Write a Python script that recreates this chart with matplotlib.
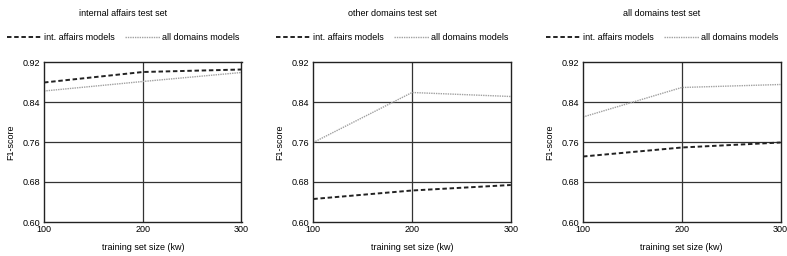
import matplotlib
matplotlib.use('Agg')
import matplotlib.pyplot as plt

# Data
sizes = [100, 200, 300]
titles = ['internal affairs test set', 'other domains test set', 'all domains test set']
int_affairs = [
    [0.879, 0.900, 0.905],
    [0.646, 0.663, 0.674],
    [0.731, 0.749, 0.759],
]
all_domains = [
    [0.862, 0.881, 0.899],
    [0.759, 0.859, 0.851],
    [0.810, 0.869, 0.875],
]
yticks = [0.60, 0.68, 0.76, 0.84, 0.92]
xticks = [100, 200, 300]

plt.rcParams['font.family'] = ['Liberation Sans', 'DejaVu Sans']
FS = 6.5

W, H = 787, 256
fig = plt.figure(figsize=(W / 100, H / 100), dpi=100)

lefts = [44, 313.3, 583]
ax_w = 197.5
ax_top, ax_bot = 62, 222

for i in range(3):
    ax = fig.add_axes([lefts[i] / W, (H - ax_bot) / H, ax_w / W, (ax_bot - ax_top) / H])
    l1, = ax.plot(sizes, int_affairs[i], color='#222222', lw=1.4,
                  linestyle=(0, (2.3, 1.4)), label='int. affairs models')
    l2, = ax.plot(sizes, all_domains[i], color='#a0a0a0', lw=1.0,
                  linestyle=(0, (1, 0.7)), label='all domains models')
    ax.set_xlim(100, 300)
    ax.set_ylim(0.60, 0.92)
    ax.set_xticks(xticks)
    ax.set_yticks(yticks)
    ax.set_yticklabels(['%.2f' % v for v in yticks])
    ax.tick_params(length=0, labelsize=FS, pad=3)
    ax.tick_params(axis='x', pad=2)
    for y in yticks[1:-1]:
        ax.axhline(y, color='#333333', lw=0.9, zorder=0)
    ax.axvline(200, color='#333333', lw=0.9, zorder=0)
    for s in ax.spines.values():
        s.set_linewidth(1.0)
        s.set_color('#222222')
    ax.set_xlabel('training set size (kw)', fontsize=FS, labelpad=7)
    ax.set_ylabel('F1-score', fontsize=FS, labelpad=5)
    ax.text(0.40, 1.306, titles[i], transform=ax.transAxes,
            ha='center', va='center', fontsize=FS)
    ax.legend(handles=[l1, l2], loc='center', bbox_to_anchor=(0.40, 1.15),
              ncol=2, frameon=False, fontsize=FS, handlelength=3.9,
              handletextpad=0.25, columnspacing=1.1, borderaxespad=0,
              borderpad=0)

fig.savefig('out.png', dpi=100)
